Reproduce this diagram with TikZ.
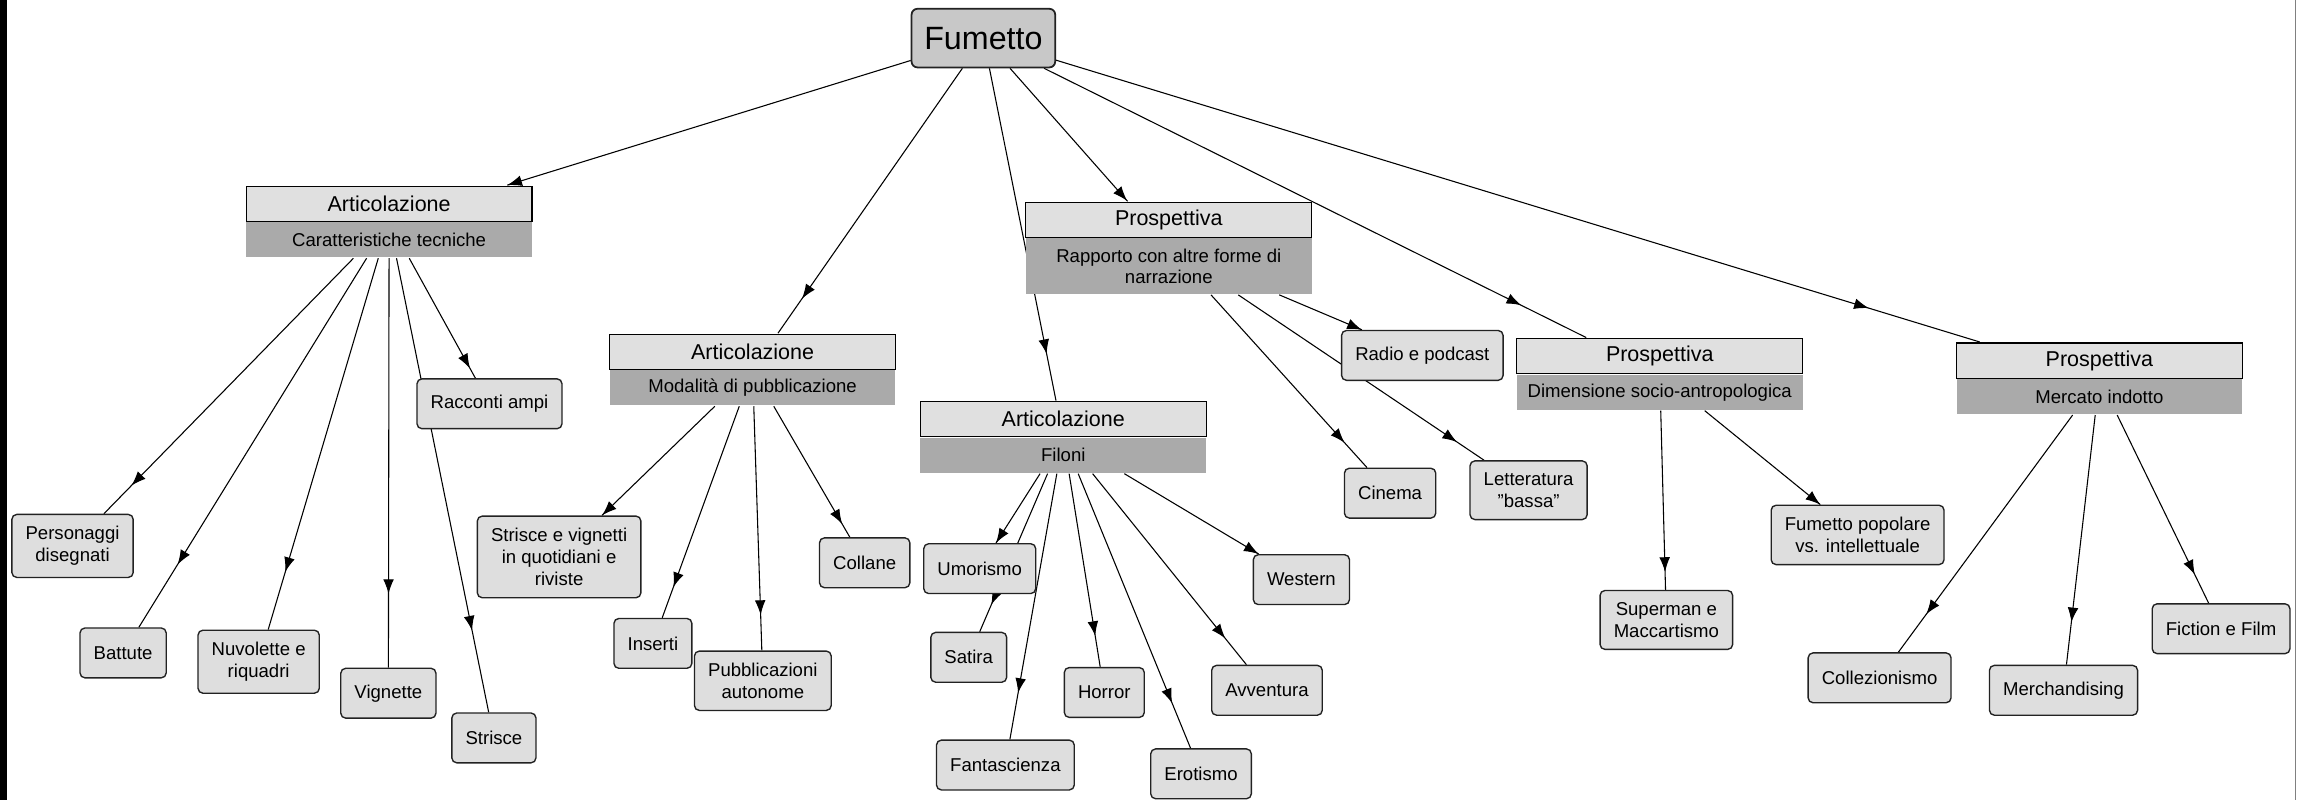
\documentclass[tikz,border=0pt]{standalone}
\usepackage{fontspec}
\setmainfont{Liberation Sans}
\usetikzlibrary{arrows.meta,decorations.markings,positioning,fit,backgrounds}

\definecolor{rootgray}{HTML}{C8C8C8}
\definecolor{headgray}{HTML}{E0E0E0}
\definecolor{subgray}{HTML}{AAAAAA}
\definecolor{leafgray}{HTML}{DEDEDE}
\definecolor{edgegray}{HTML}{222222}

\begin{document}
\begin{tikzpicture}[x=0.75pt,y=-0.75pt,
    rootbox/.style={draw=edgegray, line width=0.9pt, fill=rootgray, rounded corners=3pt,
      minimum width=73.5pt, minimum height=30pt, font=\fontsize{16.5}{18}\selectfont},
    headbox/.style={draw=black, line width=0.6pt, fill=headgray, minimum width=146.25pt,
      minimum height=18pt, inner sep=0pt, font=\fontsize{11}{13}\selectfont},
    subbox/.style={fill=subgray, minimum width=146.25pt, minimum height=18pt, inner sep=0pt,
      align=center, font=\fontsize{9.5}{11}\selectfont},
    leafbox/.style={draw=edgegray, line width=0.7pt, fill=leafgray, rounded corners=2.5pt,
      align=center, inner xsep=7pt, inner ysep=6pt, minimum height=25.5pt,
      font=\fontsize{9.5}{11.4}\selectfont},
    link/.style={line width=0.55pt},
    arr/.style={postaction={decorate}, decoration={markings,
      mark=at position #1 with {\arrow{Latex[length=7.5pt,width=5.5pt]}}}},
  ]

  \useasboundingbox (0,0) rectangle (1568,546);

  % root
  \node[rootbox] (fum) at (671,26) {Fumetto};

  % two-part concepts
  \node[headbox] (art1h) at (265.5,139) {Articolazione};
  \node[subbox, below=0pt of art1h] (art1s) {Caratteristiche tecniche};
  \node[fit=(art1h)(art1s), inner sep=0pt] (art1) {};

  \node[headbox] (art2h) at (513.5,240) {Articolazione};
  \node[subbox, below=0pt of art2h] (art2s) {Modalità di pubblicazione};
  \node[fit=(art2h)(art2s), inner sep=0pt] (art2) {};

  \node[headbox] (pro1h) at (797.5,150) {Prospettiva};
  \node[subbox, below=0pt of pro1h, minimum height=28.5pt] (pro1s) {Rapporto con altre forme di\\narrazione};
  \node[fit=(pro1h)(pro1s), inner sep=0pt] (pro1) {};

  \node[headbox] (art3h) at (725.5,286) {Articolazione};
  \node[subbox, below=0pt of art3h] (art3s) {Filoni};
  \node[fit=(art3h)(art3s), inner sep=0pt] (art3) {};

  \node[headbox] (pro2h) at (1132.5,243) {Prospettiva};
  \node[subbox, below=0pt of pro2h] (pro2s) {Dimensione socio-antropologica};
  \node[fit=(pro2h)(pro2s), inner sep=0pt] (pro2) {};

  \node[headbox] (pro3h) at (1432.5,246) {Prospettiva};
  \node[subbox, below=0pt of pro3h] (pro3s) {Mercato indotto};
  \node[fit=(pro3h)(pro3s), inner sep=0pt] (pro3) {};

  % leaves
  \node[leafbox] (racc) at (334,275.5) {Racconti ampi};
  \node[leafbox] (pers) at (49.5,372.5) {Personaggi\\disegnati};
  \node[leafbox] (batt) at (84,445.5) {Battute};
  \node[leafbox] (nuvo) at (176.5,451.5) {Nuvolette e\\riquadri};
  \node[leafbox] (vign) at (265,473) {Vignette};
  \node[leafbox] (stri) at (337,503.5) {Strisce};

  \node[leafbox] (quot) at (381.5,380) {Strisce e vignetti\\in quotidiani e\\riviste};
  \node[leafbox] (inse) at (445.5,439) {Inserti};
  \node[leafbox] (pubb) at (520.5,464.5) {Pubblicazioni\\autonome};
  \node[leafbox] (coll) at (590,384) {Collane};

  \node[leafbox] (umor) at (668.5,388) {Umorismo};
  \node[leafbox] (sati) at (661,448.5) {Satira};
  \node[leafbox] (fant) at (686,522) {Fantascienza};
  \node[leafbox] (horr) at (753.5,472.5) {Horror};
  \node[leafbox] (erot) at (819.5,528) {Erotismo};
  \node[leafbox] (avve) at (864.5,471) {Avventura};
  \node[leafbox] (west) at (888,395.5) {Western};

  \node[leafbox] (radi) at (970.5,242.5) {Radio e podcast};
  \node[leafbox] (cine) at (948.5,336.5) {Cinema};
  \node[leafbox] (lett) at (1043,334.5) {Letteratura\\"bassa"};

  \node[leafbox] (supe) at (1137,423) {Superman e\\Maccartismo};
  \node[leafbox] (popo) at (1267.5,365) {Fumetto popolare\\vs. intellettuale};

  \node[leafbox] (colz) at (1282.5,462.5) {Collezionismo};
  \node[leafbox] (merc) at (1408,471) {Merchandising};
  \node[leafbox] (fict) at (1515.5,429) {Fiction e Film};

  % frame strips
  \fill[black] (0,0) rectangle (5,546);
  \draw[gray, line width=0.5pt] (1566,0) -- (1566,546);

  \begin{scope}[on background layer]
    \fill[white] (0,0) rectangle (1568,546);
    % from the root
    \draw[link,arr=1] (fum) -- (art1);
    \draw[link,arr=0.87] (fum) -- (art2);
    \draw[link,arr=0.86] (fum) -- (art3);
    \draw[link,arr=1] (fum) -- (pro1);
    \draw[link,arr=0.88] (fum) -- (pro2);
    \draw[link,arr=0.88] (fum) -- (pro3);
    % caratteristiche tecniche
    \draw[link,arr=0.89] (art1) -- (pers);
    \draw[link,arr=0.83] (art1) -- (batt);
    \draw[link,arr=0.845] (art1) -- (nuvo);
    \draw[link,arr=0.82] (art1) -- (vign);
    \draw[link,arr=0.82] (art1) -- (stri);
    \draw[link,arr=0.92] (art1) -- (racc);
    % modalita di pubblicazione
    \draw[link,arr=1] (art2) -- (quot);
    \draw[link,arr=0.855] (art2) -- (inse);
    \draw[link,arr=0.855] (art2) -- (pubb);
    \draw[link,arr=0.9] (art2) -- (coll);
    % filoni
    \draw[link,arr=1] (art3) -- (umor);
    \draw[link,arr=0.83] (art3) -- (sati);
    \draw[link,arr=0.825] (art3) -- (fant);
    \draw[link,arr=0.84] (art3) -- (horr);
    \draw[link,arr=0.836] (art3) -- (erot);
    \draw[link,arr=0.864] (art3) -- (avve);
    \draw[link,arr=1] (art3) -- (west);
    % rapporto con altre forme
    \draw[link,arr=1] (pro1) -- (radi);
    \draw[link,arr=0.857] (pro1) -- (cine);
    \draw[link,arr=0.89] (pro1) -- (lett);
    % dimensione socio-antropologica
    \draw[link,arr=0.9] (pro2) -- (supe);
    \draw[link,arr=1] (pro2) -- (popo);
    % mercato indotto
    \draw[link,arr=0.84] (pro3) -- (colz);
    \draw[link,arr=0.83] (pro3) -- (merc);
    \draw[link,arr=0.85] (pro3) -- (fict);
  \end{scope}

\end{tikzpicture}
\end{document}
